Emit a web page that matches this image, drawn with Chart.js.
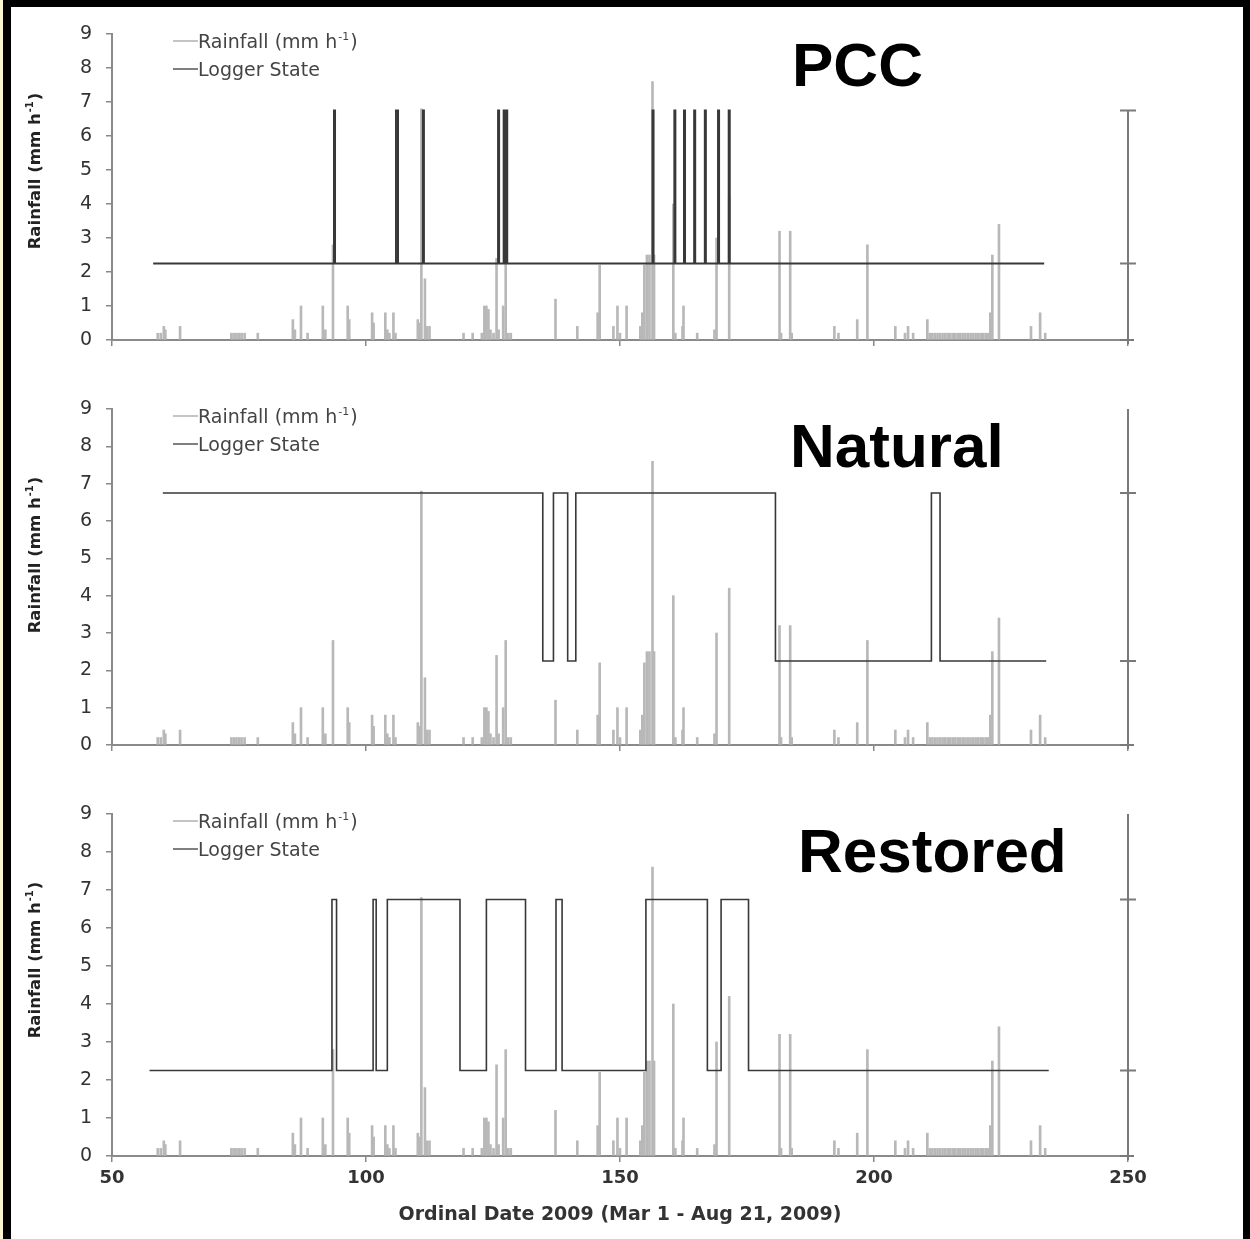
<!DOCTYPE html>
<html>
<head>
<meta charset="utf-8">
<script src="https://cdn.jsdelivr.net/npm/chart.js@4.4.1/dist/chart.umd.min.js"></script>
<style>
body { margin: 0; background: #fff; }
#page { position: relative; width: 1250px; height: 1239px; overflow: hidden; background: #fff; }
.panel { position: absolute; left: 0; }
#strip { position: absolute; left: 0; top: 0; width: 3px; height: 1239px; background: #fbf4d2; }
#frame { position: absolute; left: 3px; top: 0; width: 1247px; height: 1239px; box-sizing: border-box;
         border-left: 8px solid #000; border-top: 7px solid #000; border-right: 7px solid #000; pointer-events: none; }
</style>
</head>
<body>
<div id="page">
  <canvas id="pcc" class="panel" width="1250" height="370" style="top:0px"></canvas>
  <canvas id="natural" class="panel" width="1250" height="400" style="top:375px"></canvas>
  <canvas id="restored" class="panel" width="1250" height="459" style="top:780px"></canvas>
  <div id="strip"></div>
  <div id="frame"></div>
</div>
<script>
const FAM = "'DejaVu Sans', Verdana, sans-serif";
const TITLE_FAM = "'Liberation Sans', Arial, Helvetica, sans-serif";
Chart.defaults.font.family = FAM;

// hourly rainfall (mm h-1) by ordinal day, same gauge for all three sites
const rainDay = [
  59.0, 59.6, 60.2, 60.5, 63.4, 73.5, 74.0, 74.5, 75.0, 75.5,
  76.1, 78.7, 85.6, 86.0, 87.2, 88.5, 91.5, 92.0, 93.5, 96.4,
  96.7, 101.2, 101.5, 103.8, 104.2, 104.6, 105.4, 105.8, 110.2, 110.5,
  110.9, 111.6, 112.0, 112.5, 119.2, 121.0, 122.8, 123.3, 123.7, 124.1,
  124.5, 125.1, 125.7, 126.1, 127.0, 127.5, 128.0, 128.5, 137.3, 141.6,
  145.6, 146.0, 148.7, 149.5, 150.0, 151.3, 154.0, 154.4, 154.8, 155.3,
  155.8, 156.4, 156.7, 160.5, 160.9, 162.3, 162.5, 165.2, 168.6, 169.0,
  171.5, 181.4, 181.7, 183.5, 183.8, 192.2, 193.0, 196.7, 198.7, 204.2,
  206.1, 206.7, 207.7, 210.5, 211.0, 211.5, 212.0, 212.5, 213.0, 213.5,
  214.0, 214.5, 215.0, 215.5, 216.0, 216.5, 217.0, 217.5, 218.0, 218.5,
  219.0, 219.5, 220.0, 220.5, 221.0, 221.5, 222.0, 222.5, 222.9, 223.3,
  224.6, 230.9, 232.7, 233.7
];
const rainMm = [
  0.2, 0.2, 0.4, 0.3, 0.4, 0.2, 0.2, 0.2, 0.2, 0.2,
  0.2, 0.2, 0.6, 0.3, 1.0, 0.2, 1.0, 0.3, 2.8, 1.0,
  0.6, 0.8, 0.5, 0.8, 0.3, 0.2, 0.8, 0.2, 0.6, 0.5,
  6.8, 1.8, 0.4, 0.4, 0.2, 0.2, 0.2, 1.0, 1.0, 0.9,
  0.3, 0.2, 2.4, 0.3, 1.0, 2.8, 0.2, 0.2, 1.2, 0.4,
  0.8, 2.2, 0.4, 1.0, 0.2, 1.0, 0.4, 0.8, 2.2, 2.5,
  2.5, 7.6, 2.5, 4.0, 0.2, 0.4, 1.0, 0.2, 0.3, 3.0,
  4.2, 3.2, 0.2, 3.2, 0.2, 0.4, 0.2, 0.6, 2.8, 0.4,
  0.2, 0.4, 0.2, 0.6, 0.2, 0.2, 0.2, 0.2, 0.2, 0.2,
  0.2, 0.2, 0.2, 0.2, 0.2, 0.2, 0.2, 0.2, 0.2, 0.2,
  0.2, 0.2, 0.2, 0.2, 0.2, 0.2, 0.2, 0.2, 0.8, 2.5,
  3.4, 0.4, 0.8, 0.2
];

// logger state change points: from each day on the state holds the given value
const pccDays = [58.1, 93.7, 93.9, 105.9, 106.3, 111.2, 111.4, 126.0, 126.2, 127.1, 127.3, 127.6, 127.8,
                 156.4, 156.6, 160.7, 160.9, 162.6, 162.8, 164.6, 164.8, 166.7, 166.9, 169.3, 169.5,
                 171.4, 171.6, 233.5];
const pccState = [2.25, 6.75, 2.25, 6.75, 2.25, 6.75, 2.25, 6.75, 2.25, 6.75, 2.25, 6.75, 2.25,
                  6.75, 2.25, 6.75, 2.25, 6.75, 2.25, 6.75, 2.25, 6.75, 2.25, 6.75, 2.25,
                  6.75, 2.25, 2.25];

const naturalDays = [60.0, 134.8, 136.9, 139.7, 141.3, 180.6, 211.3, 213.0, 233.9];
const naturalState = [6.75, 2.25, 6.75, 2.25, 6.75, 2.25, 6.75, 2.25, 2.25];

const restoredDays = [57.4, 93.3, 94.2, 101.4, 102.0, 104.2, 118.5, 123.7, 131.4, 137.4, 138.6,
                      155.1, 167.2, 169.9, 175.3, 234.4];
const restoredState = [2.25, 6.75, 2.25, 6.75, 2.25, 6.75, 2.25, 6.75, 2.25, 6.75, 2.25,
                       6.75, 2.25, 6.75, 2.25, 2.25];

const xTicks = [50, 100, 150, 200, 250];
const yTicks = [0, 1, 2, 3, 4, 5, 6, 7, 8, 9];
const stateTicks = [2.25, 6.75];

function sup(ctx, parts, size, weight) {
  // parts: [base, superscript, tail]
  const big = weight + ' ' + size + 'px ' + FAM;
  const small = weight + ' ' + Math.round(size * 0.6) + 'px ' + FAM;
  ctx.font = big; const w0 = ctx.measureText(parts[0]).width;
  ctx.font = small; const w1 = ctx.measureText(parts[1]).width;
  ctx.font = big; const w2 = ctx.measureText(parts[2]).width;
  return {
    width: w0 + w1 + w2 + 2,
    draw(x, y) {
      ctx.font = big; ctx.fillText(parts[0], x, y);
      ctx.font = small; ctx.fillText(parts[1], x + w0 + 1, y - size * 0.42);
      ctx.font = big; ctx.fillText(parts[2], x + w0 + w1 + 2, y);
    }
  };
}

function deco(cfg) {
  return {
    id: 'deco',
    afterDraw(chart) {
      const ctx = chart.ctx;
      const x = chart.scales.x, y = chart.scales.y;
      const top = chart.chartArea.top;
      ctx.save();

      // right-hand logger axis
      const rx = x.getPixelForValue(250);
      ctx.strokeStyle = '#7a7a7a';
      ctx.lineWidth = 2;
      ctx.beginPath();
      ctx.moveTo(rx, y.getPixelForValue(cfg.rightTop));
      ctx.lineTo(rx, y.getPixelForValue(0) + 4);
      stateTicks.forEach(v => {
        const py = y.getPixelForValue(v);
        ctx.moveTo(rx - 8, py); ctx.lineTo(rx + 8, py);
      });
      ctx.moveTo(rx - 8, y.getPixelForValue(0)); ctx.lineTo(rx + 6, y.getPixelForValue(0));
      ctx.stroke();

      // legend
      ctx.textBaseline = 'alphabetic';
      ctx.fillStyle = '#444';
      ctx.lineWidth = 1.5;
      const ly1 = top + 7, ly2 = top + 35;
      ctx.strokeStyle = '#b0b0b0';
      ctx.beginPath(); ctx.moveTo(173, ly1); ctx.lineTo(198, ly1); ctx.stroke();
      ctx.strokeStyle = '#555';
      ctx.beginPath(); ctx.moveTo(173, ly2); ctx.lineTo(198, ly2); ctx.stroke();
      sup(ctx, ['Rainfall (mm h', '-1', ')'], 19, 'normal').draw(198, ly1 + 7);
      ctx.font = 'normal 19px ' + FAM;
      ctx.fillText('Logger State', 198, ly2 + 7);

      // y axis title
      ctx.fillStyle = '#222';
      ctx.save();
      ctx.translate(40, top + cfg.titleOffset);
      ctx.rotate(-Math.PI / 2);
      const t = sup(ctx, ['Rainfall (mm h', '-1', ')'], 16.5, 'bold');
      t.draw(-t.width / 2, 0);
      ctx.restore();

      // panel name
      ctx.fillStyle = '#000';
      ctx.font = 'bold 62px ' + TITLE_FAM;
      ctx.fillText(cfg.name, cfg.nameX, cfg.nameY - cfg.canvasTop);

      if (cfg.xTitle) {
        ctx.fillStyle = '#333';
        ctx.font = 'bold 19px ' + FAM;
        ctx.textAlign = 'center';
        ctx.fillText('Ordinal Date 2009 (Mar 1 - Aug 21, 2009)', (x.left + x.right) / 2, 1220 - cfg.canvasTop);
      }
      ctx.restore();
    }
  };
}

function panel(id, days, states, cfg) {
  const ctx = document.getElementById(id).getContext('2d');
  return new Chart(ctx, {
    type: 'line',
    data: {
      datasets: [{
        type: 'line',
        label: 'Logger State',
        data: days.map((d, i) => ({ x: d, y: states[i] })),
        stepped: true,
        borderColor: '#383838',
        borderWidth: cfg.stateWidth,
        pointRadius: 0,
        fill: false,
        order: 0
      }, {
        type: 'bar',
        label: 'Rainfall (mm h-1)',
        data: rainDay.map((d, i) => ({ x: d, y: rainMm[i] })),
        backgroundColor: '#b8b8b8',
        barThickness: 2,
        order: 1
      }]
    },
    options: {
      responsive: false,
      animation: false,
      events: [],
      layout: { padding: { top: 34, right: 122, left: 0, bottom: 0 } },
      plugins: { legend: { display: false }, tooltip: { enabled: false } },
      scales: {
        x: {
          type: 'linear', min: 50, max: 250, offset: false,
          afterFit(s) { s.height = cfg.xHeight; },
          afterBuildTicks(s) { s.ticks = xTicks.map(v => ({ value: v })); },
          ticks: { display: cfg.xTitle, color: '#333', padding: 6, font: { size: 18, weight: 'bold' } },
          grid: { drawOnChartArea: false, tickLength: 6, color: '#888', lineWidth: 1.5, offset: false },
          border: { color: '#8a8a8a', width: 2 }
        },
        y: {
          min: 0, max: 9,
          afterFit(s) { s.width = 112; },
          afterBuildTicks(s) { s.ticks = yTicks.map(v => ({ value: v })); },
          ticks: { color: '#333', padding: 14, font: { size: 19 } },
          grid: { drawOnChartArea: false, tickLength: 6, color: '#888', lineWidth: 1.5 },
          border: { color: '#8a8a8a', width: 2 }
        }
      }
    },
    plugins: [deco(cfg)]
  });
}

panel('pcc', pccDays, pccState, {
  name: 'PCC', nameX: 792, nameY: 86, canvasTop: 0, rightTop: 6.75, titleOffset: 137,
  xHeight: 30, xTitle: false, stateWidth: 2
});
panel('natural', naturalDays, naturalState, {
  name: 'Natural', nameX: 790, nameY: 467, canvasTop: 375, rightTop: 9, titleOffset: 146,
  xHeight: 30, xTitle: false, stateWidth: 1.6
});
panel('restored', restoredDays, restoredState, {
  name: 'Restored', nameX: 798, nameY: 872, canvasTop: 780, rightTop: 9, titleOffset: 146,
  xHeight: 83, xTitle: true, stateWidth: 1.6
});
</script>
</body>
</html>
